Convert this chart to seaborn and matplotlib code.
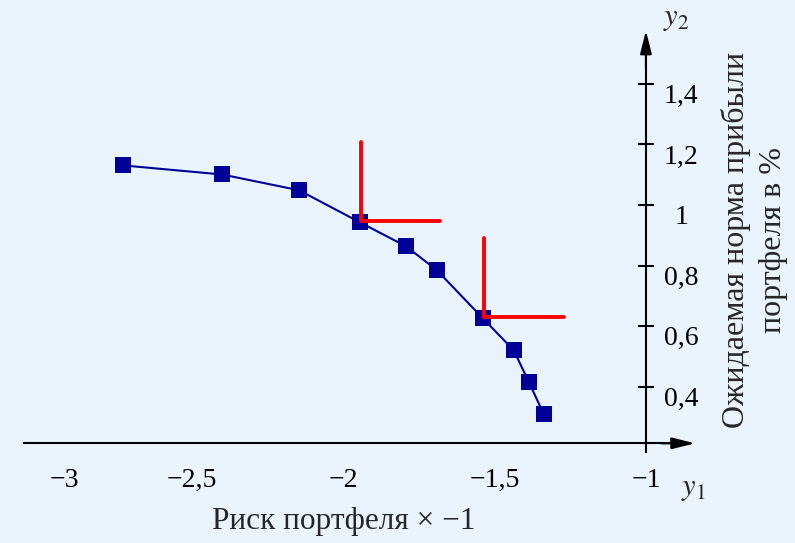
import matplotlib
matplotlib.use("Agg")
import matplotlib.pyplot as plt
import seaborn as sns
import pandas as pd

# --- data ---
risk = [-2.726, -2.399, -2.145, -1.944, -1.792, -1.690, -1.538, -1.436, -1.386, -1.337]
ret = [1.131, 1.101, 1.049, 0.943, 0.864, 0.785, 0.626, 0.520, 0.415, 0.309]

# two red "L" corner marks (vertical then horizontal stroke)
corner1_x = [-1.942, -1.942, -1.680]
corner1_y = [1.209, 0.948, 0.948]
corner2_x = [-1.535, -1.535, -1.271]
corner2_y = [0.892, 0.630, 0.630]

xtick_vals = [-2.92, -2.5, -2.0, -1.5, -1.0]
xtick_labels = ["\u22123", "\u22122,5", "\u22122", "\u22121,5", "\u22121"]
ytick_vals = [0.4, 0.6, 0.8, 1.0, 1.2, 1.4]
ytick_labels = ["0,4", "0,6", "0,8", "1", "1,2", "1,4"]

BG = "#EAF4FE"
BLUE = "#000099"

sns.set_style("white")
plt.rcParams["font.family"] = ["Liberation Serif", "DejaVu Serif"]
plt.rcParams["mathtext.fontset"] = "stix"

fig = plt.figure(figsize=(7.95, 5.43), dpi=100, facecolor=BG)
ax = fig.add_axes([0, 0, 1, 1], facecolor=BG)
ax.set_xlim(-3.132, -0.508)
ax.set_ylim(-0.1155, 1.677)

x_axis_y = 0.2135
for s in ["top", "left"]:
    ax.spines[s].set_visible(False)
ax.spines["bottom"].set_position(("data", x_axis_y))
ax.spines["bottom"].set_bounds(-3.053, -0.9)
ax.spines["right"].set_position(("data", -1.0))
ax.spines["right"].set_bounds(0.185, 1.5)
for s in ["bottom", "right"]:
    ax.spines[s].set_color("black")
    ax.spines[s].set_linewidth(1.5)

# arrow heads
ax.annotate("", xy=(-0.838, x_axis_y), xytext=(-0.95, x_axis_y),
            arrowprops=dict(arrowstyle="-|>,head_length=1.4,head_width=0.35",
                            color="black", lw=1.5, shrinkA=0, shrinkB=0))
ax.annotate("", xy=(-1.0, 1.576), xytext=(-1.0, 1.45),
            arrowprops=dict(arrowstyle="-|>,head_length=1.4,head_width=0.35",
                            color="black", lw=1.5, shrinkA=0, shrinkB=0))

ax.yaxis.tick_right()
ax.set_xticks(xtick_vals, xtick_labels)
ax.set_yticks(ytick_vals, ytick_labels)
ax.tick_params(axis="both", direction="inout", length=11, width=1.5,
               colors="black", labelsize=20)
ax.tick_params(axis="x", pad=12)
ax.tick_params(axis="y", pad=20)
ax.xaxis.get_major_ticks()[0].tick1line.set_visible(False)
for lab in ax.get_yticklabels():
    lab.set_horizontalalignment("center")
    lab.set_verticalalignment("top")
ax.grid(False)

# frontier curve
df = pd.DataFrame({"risk": risk, "ret": ret})
sns.lineplot(data=df, x="risk", y="ret", sort=False, color=BLUE, linewidth=1.5,
             marker="s", markersize=11.5, markeredgewidth=0, ax=ax, zorder=3)

ax.plot(corner1_x, corner1_y, color="#FF0000", linewidth=2.8, zorder=4)
ax.plot(corner2_x, corner2_y, color="#FF0000", linewidth=2.8, zorder=4)

ax.set_xlabel("")
ax.set_ylabel("")

ax.text(-1.997, -0.046, "Риск портфеля \u00d7 \u22121", fontsize=22.5,
        ha="center", va="center")
ax.text(-0.642, 0.8845, "Ожидаемая норма прибыли\nпортфеля в %", fontsize=23,
        rotation=90, ha="center", va="center", multialignment="center",
        linespacing=1.35)
ax.text(-0.901, 1.617, r"$y_2$", fontsize=22, ha="center", va="center")
ax.text(-0.845, 0.066, r"$y_1$", fontsize=22, ha="center", va="center")

fig.savefig("out.png", dpi=100, facecolor=BG)
